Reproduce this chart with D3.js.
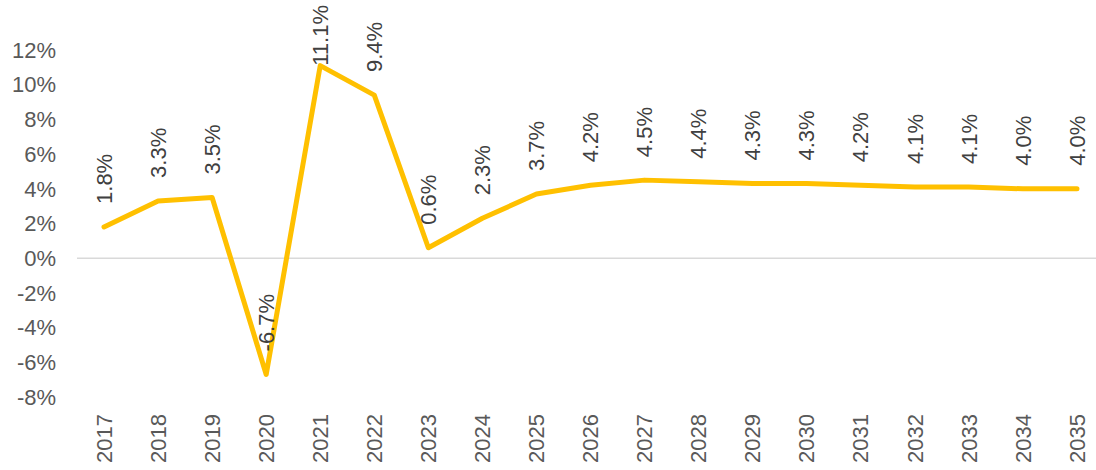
<!DOCTYPE html>
<html>
<head>
<meta charset="utf-8">
<script src="https://cdn.jsdelivr.net/npm/d3@7"></script>
<style>
  html, body { margin: 0; padding: 0; background: #fff; }
  svg text { font-family: Arial, "Liberation Sans", sans-serif; }
</style>
</head>
<body>
<div id="chart"></div>
<script>
const years = ['2017', '2018', '2019', '2020', '2021', '2022', '2023', '2024', '2025', '2026',
  '2027', '2028', '2029', '2030', '2031', '2032', '2033', '2034', '2035'];
const growth = [1.8, 3.3, 3.5, -6.7, 11.1, 9.4, 0.6, 2.3, 3.7, 4.2, 4.5, 4.4, 4.3, 4.3, 4.2, 4.1, 4.1, 4.0, 4.0];
const yTicks = [-8, -6, -4, -2, 0, 2, 4, 6, 8, 10, 12];

const width = 1096;
const height = 470;

const svg = d3.select('#chart')
  .append('svg')
  .attr('width', width)
  .attr('height', height);

const x = d3.scaleBand()
  .domain(years)
  .range([77, 1104]);
const y = d3.scaleLinear()
  .domain([-8, 12])
  .range([397, 50]);

const cx = d => x(d) + x.bandwidth() / 2;

// y axis labels
svg.append('g')
  .selectAll('text')
  .data(yTicks)
  .enter().append('text')
  .attr('x', 56)
  .attr('y', d => y(d))
  .attr('dy', '0.35em')
  .attr('text-anchor', 'end')
  .attr('fill', '#595959')
  .style('font-size', '22px')
  .text(d => d + '%');

// zero line
svg.append('line')
  .attr('x1', x.range()[0])
  .attr('x2', x.range()[1])
  .attr('y1', y(0))
  .attr('y2', y(0))
  .attr('stroke', '#d9d9d9')
  .attr('stroke-width', 1.5);

// x axis labels
svg.append('g')
  .selectAll('text')
  .data(years)
  .enter().append('text')
  .attr('transform', d => `translate(${cx(d)},463) rotate(-90)`)
  .attr('dy', '0.35em')
  .attr('text-anchor', 'start')
  .attr('fill', '#595959')
  .style('font-size', '22px')
  .text(d => d);

// line
const line = d3.line()
  .x((d, i) => cx(years[i]))
  .y(d => y(d));

svg.append('path')
  .datum(growth)
  .attr('d', line)
  .attr('fill', 'none')
  .attr('stroke', '#FFC000')
  .attr('stroke-width', 5)
  .attr('stroke-linejoin', 'round')
  .attr('stroke-linecap', 'round');

// data labels
const labels = svg.append('g')
  .selectAll('text')
  .data(growth)
  .enter().append('text')
  .attr('text-anchor', 'start')
  .attr('dy', '0.35em')
  .attr('fill', '#404040')
  .style('font-size', '22px')
  .text(d => d.toFixed(1) + '%');

labels.each(function (d, i) {
  const len = this.getComputedTextLength();
  const bottom = Math.max(y(d) - 23, 5 + len);
  d3.select(this).attr('transform', `translate(${cx(years[i])},${bottom}) rotate(-90)`);
});
</script>
</body>
</html>
